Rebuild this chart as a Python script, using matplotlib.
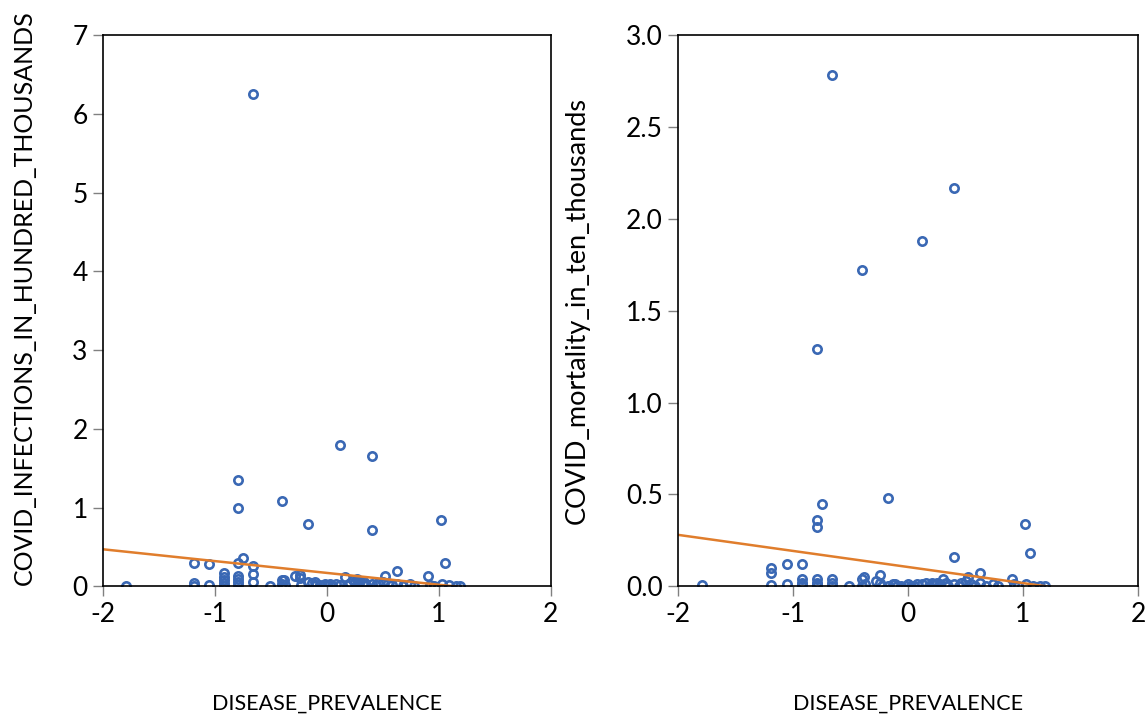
import matplotlib
matplotlib.use("Agg")
import matplotlib.pyplot as plt
import numpy as np

plt.rcParams['font.family'] = ['Lato', 'DejaVu Sans']

# shared x variable
disease_prevalence = [-1.79, -1.19, -1.19, -1.19, -1.05, -1.05, -0.92, -0.92, -0.92, -0.92,
                      -0.92, -0.79, -0.79, -0.79, -0.79, -0.79, -0.79, -0.79, -0.75, -0.66,
                      -0.66, -0.66, -0.66, -0.51, -0.40, -0.40, -0.40, -0.38, -0.37, -0.28,
                      -0.24, -0.24, -0.23, -0.17, -0.17, -0.13, -0.11, -0.10, -0.02, 0.00,
                      0.03, 0.05, 0.12, 0.12, 0.16, 0.18, 0.23, 0.25, 0.27, 0.30,
                      0.32, 0.35, 0.40, 0.40, 0.40, 0.44, 0.50, 0.52, 0.55, 0.58,
                      0.63, 0.63, 0.68, 0.74, 0.78, 0.90, 0.92, 0.96, 1.02, 1.03,
                      1.06, 1.09, 1.15, 1.19, 0.21, 0.28, 0.33, -0.06, 0.08, 0.46]

covid_infections = [0.01, 0.29, 0.04, 0.01, 0.28, 0.02, 0.17, 0.12, 0.08, 0.04,
                    0.01, 1.35, 1.00, 0.30, 0.13, 0.09, 0.05, 0.02, 0.36, 6.25,
                    0.26, 0.16, 0.05, 0.01, 1.08, 0.08, 0.03, 0.08, 0.02, 0.13,
                    0.14, 0.10, 0.02, 0.79, 0.05, 0.04, 0.05, 0.02, 0.03, 0.02,
                    0.03, 0.01, 1.79, 0.02, 0.12, 0.02, 0.08, 0.05, 0.09, 0.07,
                    0.03, 0.02, 1.66, 0.71, 0.03, 0.02, 0.05, 0.13, 0.04, 0.02,
                    0.20, 0.03, 0.01, 0.03, 0.01, 0.13, 0.02, 0.01, 0.84, 0.03,
                    0.30, 0.02, 0.01, 0.01, 0.04, 0.06, 0.05, 0.02, 0.03, 0.04]

covid_mortality = [0.005, 0.10, 0.07, 0.005, 0.12, 0.01, 0.12, 0.04, 0.02, 0.01,
                   0.00, 1.29, 0.36, 0.32, 0.04, 0.02, 0.01, 0.00, 0.45, 2.78,
                   0.04, 0.02, 0.00, 0.00, 1.72, 0.04, 0.00, 0.05, 0.01, 0.03,
                   0.06, 0.02, 0.00, 0.48, 0.00, 0.01, 0.01, 0.00, 0.00, 0.01,
                   0.00, 0.00, 1.88, 0.01, 0.02, 0.00, 0.01, 0.02, 0.00, 0.04,
                   0.01, 0.00, 2.17, 0.16, 0.01, 0.00, 0.03, 0.05, 0.01, 0.00,
                   0.07, 0.02, 0.00, 0.01, 0.00, 0.04, 0.01, 0.00, 0.34, 0.01,
                   0.18, 0.00, 0.00, 0.00, 0.02, 0.01, 0.02, 0.00, 0.01, 0.02]

# fitted regression lines (intercept, slope)
fit_infections = (0.17, -0.150)
fit_mortality = (0.105, -0.0875)

x_ticks = [-2, -1, 0, 1, 2]
inf_ticks = [0, 1, 2, 3, 4, 5, 6, 7]
mort_ticks = [0.0, 0.5, 1.0, 1.5, 2.0, 2.5, 3.0]

blue = '#3A68B4'
orange = '#E07D2C'

fig = plt.figure(figsize=(11.48, 7.15), dpi=100)
ax1 = fig.add_axes([0.0897, 0.180, 0.390, 0.771])
ax2 = fig.add_axes([0.5906, 0.180, 0.4007, 0.771])


def panel(ax, y, fit, yticks, ylabels, ylabel, ysize, ylab_y):
    xs = np.array([-2.0, 2.0])
    ax.plot(disease_prevalence, y, 'o', mfc='none', mec=blue, ms=6, mew=1.9, zorder=3)
    ax.plot(xs, fit[0] + fit[1] * xs, color=orange, lw=1.8, zorder=4)
    ax.set_xlim(-2, 2)
    ax.set_ylim(yticks[0], yticks[-1])
    ax.set_xticks(x_ticks)
    ax.set_xticklabels([str(t) for t in x_ticks])
    ax.set_yticks(yticks)
    ax.set_yticklabels(ylabels)
    ax.tick_params(direction='out', length=7, width=1, color='#808080', labelsize=19, pad=4)
    for s in ax.spines.values():
        s.set_linewidth(1.2)
        s.set_color('black')
        s.set_zorder(5)
    ax.set_xlabel('DISEASE_PREVALENCE', fontsize=15.5, labelpad=48)
    ax.set_ylabel(ylabel, fontsize=ysize, labelpad=26)
    ax.yaxis.label.set_y(ylab_y)


panel(ax1, covid_infections, fit_infections, inf_ticks, [str(t) for t in inf_ticks],
      'COVID_INFECTIONS_IN_HUNDRED_THOUSANDS', 18, 0.524)
panel(ax2, covid_mortality, fit_mortality, mort_ticks, ['%.1f' % t for t in mort_ticks],
      'COVID_mortality_in_ten_thousands', 19.5, 0.5)

fig.savefig('out.png', dpi=100)
